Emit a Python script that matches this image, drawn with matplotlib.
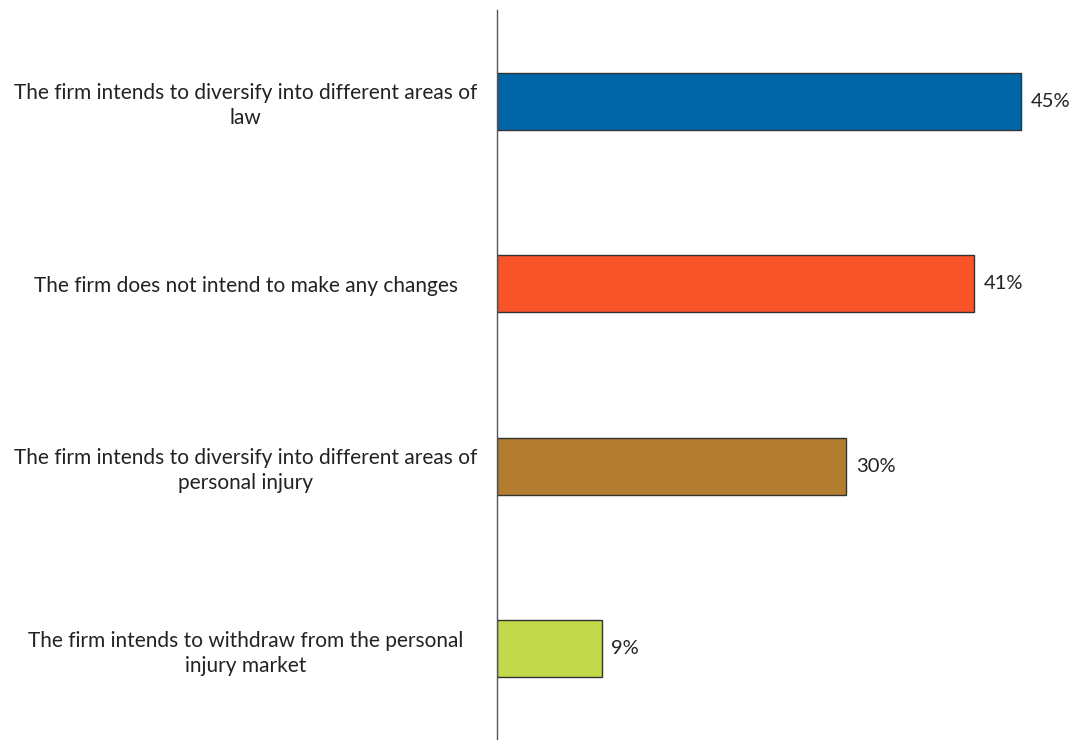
import matplotlib.pyplot as plt

plt.rcParams['font.family'] = ['Lato', 'DejaVu Sans']

labels = ['The firm intends to diversify into different areas of\nlaw',
          'The firm does not intend to make any changes',
          'The firm intends to diversify into different areas of\npersonal injury',
          'The firm intends to withdraw from the personal\ninjury market']
values = [45, 41, 30, 9]
colors = ['#0066a8', '#f95428', '#b27d30', '#c2d94a']

fig = plt.figure(figsize=(10.72, 7.4), dpi=100)
ax = fig.add_axes([497/1072, 0, 568/1072, 730/740])

pos = range(len(values))
ax.barh(pos, values, height=0.31, color=colors, edgecolor='#333333', linewidth=1)
for i, v in enumerate(values):
    ax.annotate(f'{v}%', (v, i), xytext=(7, 0), textcoords='offset points',
                va='center', ha='left', fontsize=14.5, color='#222222')

ax.set_xlim(0, 48.8)
ax.set_ylim(3.5, -0.5)
ax.set_yticks(list(pos))
ax.set_yticklabels(labels, fontsize=15, color='#222222', ha='center', linespacing=1.3)
ax.tick_params(axis='y', length=0, pad=181)
ax.set_xticks([])
for s in ['top', 'right', 'bottom']:
    ax.spines[s].set_visible(False)
ax.spines['left'].set_color('#555555')
ax.spines['left'].set_linewidth(1)

fig.savefig('out.png', dpi=100)
